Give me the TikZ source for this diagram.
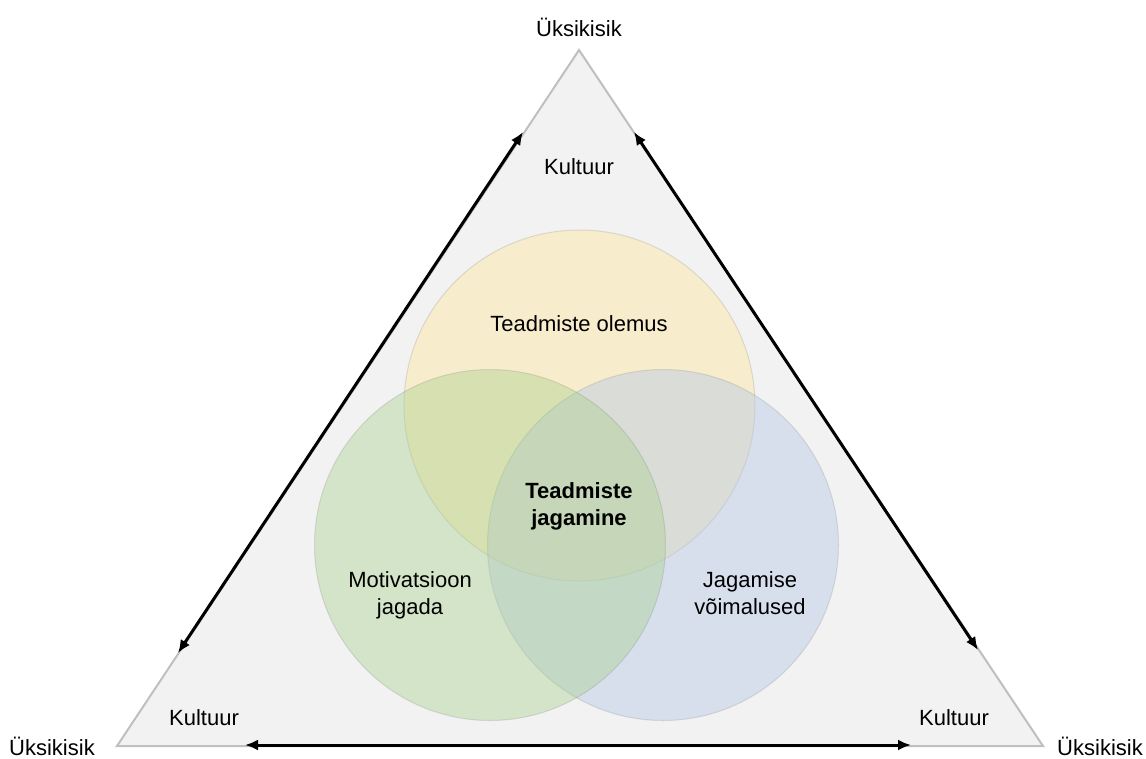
\documentclass[tikz,border=0pt]{standalone}
\usepackage{fontspec}
\setmainfont{Liberation Sans}
\usetikzlibrary{arrows.meta}
\definecolor{tribg}{HTML}{F2F2F2}
\definecolor{triline}{HTML}{BFBFBF}
\definecolor{cgold}{HTML}{FFE699}
\definecolor{cgreen}{HTML}{A9D18E}
\definecolor{cblue}{HTML}{B4C7E7}
\begin{document}
\begin{tikzpicture}[x=1pt,y=-1pt,
  lbl/.style={font=\fontsize{22}{27}\selectfont, align=center, inner sep=0pt},
  venn/.style={circle, minimum size=351pt, inner sep=0pt, fill opacity=0.42,
    draw=black!60, draw opacity=0.18, line width=1pt},
  dblarrow/.style={{Latex[length=13pt,width=11pt]}-{Latex[length=13pt,width=11pt]}, line width=3pt, black}]
\useasboundingbox (0,0) rectangle (1146,758);
% triangle
\coordinate (A) at (579,50);
\coordinate (B) at (117,746);
\coordinate (C) at (1043,746);
\draw[fill=tribg, draw=triline, line width=2pt] (A) -- (B) -- (C) -- cycle;
% venn circles
\node[venn, fill=cgold] (ctop) at (579.5,405.5) {};
\node[venn, fill=cblue] (cright) at (663,545) {};
\node[venn, fill=cgreen] (cleft) at (490,545) {};
% arrows
\coordinate (l1) at (523,132);
\coordinate (l2) at (178,653);
\coordinate (r1) at (634,132);
\coordinate (r2) at (978,650);
\coordinate (b1) at (245,745);
\coordinate (b2) at (911,745);
\draw[dblarrow] (l1) -- (l2);
\draw[dblarrow] (r1) -- (r2);
\draw[dblarrow] (b1) -- (b2);
% labels
\node[lbl, anchor=base] (utop) at (579,36) {Üksikisik};
\node[lbl, anchor=base] (uleft) at (52,755) {Üksikisik};
\node[lbl, anchor=base] (uright) at (1100,755) {Üksikisik};
\node[lbl, anchor=base] (ktop) at (579,174) {Kultuur};
\node[lbl, anchor=base] (kleft) at (204,725) {Kultuur};
\node[lbl, anchor=base] (kright) at (954,725) {Kultuur};
\node[lbl, anchor=base] (ttop) at (579,331) {Teadmiste olemus};
\node[lbl, font=\fontsize{22}{27}\selectfont\bfseries] (tcenter) at (579,506) {Teadmiste\\jagamine};
\node[lbl] (tleft) at (410,595) {Motivatsioon\\jagada};
\node[lbl] (tright) at (750,593) {Jagamise\\võimalused};
\end{tikzpicture}
\end{document}
